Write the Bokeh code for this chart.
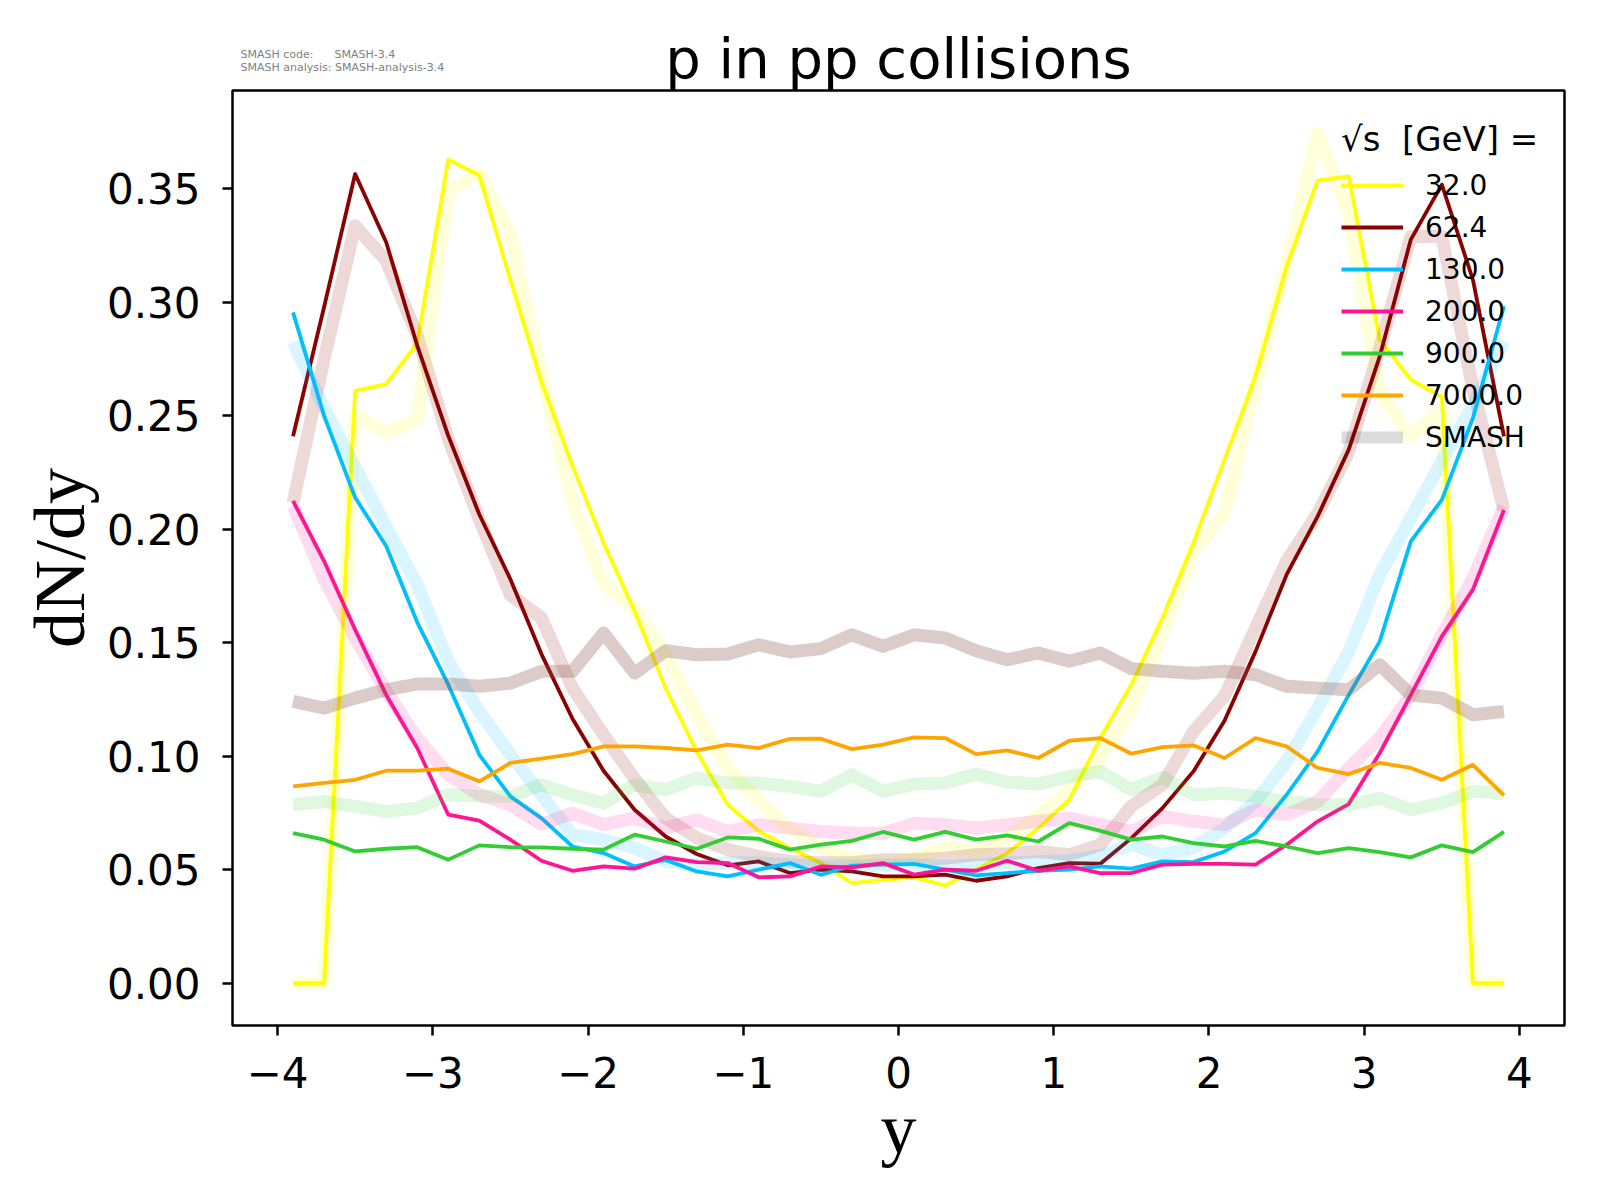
from bokeh.plotting import figure
from bokeh.models import Range1d, FixedTicker, Legend, LegendItem, Title
from bokeh.embed import file_html
from bokeh.resources import INLINE

# ---------------- data ----------------
y_bins = [-3.9, -3.7, -3.5, -3.3, -3.1, -2.9, -2.7, -2.5, -2.3, -2.1,
          -1.9, -1.7, -1.5, -1.3, -1.1, -0.9, -0.7, -0.5, -0.3, -0.1,
          0.1, 0.3, 0.5, 0.7, 0.9, 1.1, 1.3, 1.5, 1.7, 1.9,
          2.1, 2.3, 2.5, 2.7, 2.9, 3.1, 3.3, 3.5, 3.7, 3.9]

energies = ["32.0", "62.4", "130.0", "200.0", "900.0", "7000.0"]
colors = ["#ffff00", "#8b0000", "#00bfff", "#ff1493", "#32cd32", "#ffa500"]

data_32 = [0.0, 0.0, 0.261, 0.264, 0.282, 0.363, 0.356, 0.310, 0.265, 0.228,
           0.194, 0.164, 0.130, 0.102, 0.0786, 0.0669, 0.0595, 0.0529, 0.0441, 0.0455,
           0.0466, 0.043, 0.050, 0.0573, 0.0683, 0.0808, 0.108, 0.1315, 0.1609, 0.194,
           0.2307, 0.2674, 0.3159, 0.3538, 0.3556, 0.2836, 0.2659, 0.2583, 0.0, 0.0]
data_62 = [0.241, 0.298, 0.3566, 0.3265, 0.281, 0.2412, 0.2065, 0.178, 0.145, 0.1165,
           0.0936, 0.0764, 0.0646, 0.0569, 0.0519, 0.0536, 0.0485, 0.050, 0.0492, 0.047,
           0.047, 0.0478, 0.0451, 0.047, 0.0507, 0.0529, 0.0526, 0.0639, 0.0771, 0.0933,
           0.1156, 0.1462, 0.180, 0.2057, 0.2351, 0.2762, 0.3277, 0.3519, 0.310, 0.241]
data_130 = [0.2956, 0.250, 0.214, 0.1926, 0.159, 0.1315, 0.1006, 0.0823, 0.0727, 0.0602,
            0.0573, 0.0514, 0.0543, 0.0492, 0.047, 0.050, 0.0529, 0.0477, 0.0518, 0.0522,
            0.0525, 0.050, 0.0475, 0.0485, 0.0495, 0.050, 0.0514, 0.0504, 0.0536, 0.0533,
            0.058, 0.0661, 0.083, 0.1021, 0.127, 0.1506, 0.1947, 0.213, 0.249, 0.2983]
data_200 = [0.2125, 0.186, 0.1557, 0.127, 0.1036, 0.0742, 0.0716, 0.0632, 0.0539, 0.0495,
            0.0514, 0.0504, 0.0554, 0.0533, 0.0529, 0.0466, 0.047, 0.0514, 0.051, 0.0529,
            0.0478, 0.050, 0.0495, 0.0539, 0.0495, 0.0514, 0.0485, 0.0485, 0.0522, 0.0525,
            0.0525, 0.0522, 0.061, 0.0713, 0.0789, 0.1014, 0.127, 0.1528, 0.1734, 0.2085]
data_900 = [0.0661, 0.0632, 0.0580, 0.0592, 0.0599, 0.0544, 0.0607, 0.0599, 0.0598, 0.0592,
            0.0588, 0.0654, 0.0624, 0.0592, 0.0642, 0.0636, 0.0588, 0.0610, 0.0627, 0.0666,
            0.0632, 0.0666, 0.0632, 0.0651, 0.0624, 0.0705, 0.0671, 0.0632, 0.0646, 0.0617,
            0.0602, 0.0627, 0.0602, 0.0573, 0.0595, 0.0577, 0.0554, 0.0607, 0.0577, 0.0666]
data_7000 = [0.0867, 0.0882, 0.0896, 0.0936, 0.0936, 0.0945, 0.0889, 0.0970, 0.0989, 0.1009,
             0.1043, 0.1043, 0.1036, 0.1026, 0.1051, 0.1036, 0.1076, 0.1077, 0.1031, 0.1051,
             0.1083, 0.1080, 0.1009, 0.1026, 0.0992, 0.1068, 0.1080, 0.1011, 0.1040, 0.1048,
             0.0992, 0.1080, 0.1043, 0.0948, 0.0921, 0.0970, 0.0948, 0.0896, 0.0962, 0.0827]

smash_32 = [0.0, 0.0, 0.2507, 0.2426, 0.2485, 0.3493, 0.3566, 0.330, 0.268, 0.212,
            0.176, 0.165, 0.145, 0.118, 0.095, 0.080, 0.068, 0.060, 0.055, 0.053,
            0.055, 0.060, 0.058, 0.064, 0.074, 0.085, 0.099, 0.121, 0.154, 0.190,
            0.207, 0.264, 0.317, 0.3747, 0.339, 0.260, 0.241, 0.253, 0.0, 0.0]
smash_62 = [0.2118, 0.275, 0.3338, 0.3184, 0.2853, 0.2397, 0.2044, 0.171, 0.161, 0.130,
            0.1095, 0.090, 0.0727, 0.064, 0.0588, 0.0558, 0.0536, 0.053, 0.053, 0.0544,
            0.0544, 0.055, 0.0566, 0.057, 0.058, 0.0566, 0.061, 0.078, 0.0874, 0.111,
            0.1264, 0.1565, 0.186, 0.207, 0.234, 0.280, 0.329, 0.329, 0.262, 0.2086]
smash_130 = [0.2824, 0.2535, 0.2275, 0.201, 0.1756, 0.1418, 0.1197, 0.1006, 0.083, 0.0654,
             0.0632, 0.0595, 0.0536, 0.0522, 0.053, 0.053, 0.052, 0.0515, 0.0515, 0.052,
             0.052, 0.0515, 0.052, 0.053, 0.0535, 0.054, 0.056, 0.061, 0.0566, 0.0595,
             0.0683, 0.080, 0.0977, 0.1212, 0.146, 0.180, 0.205, 0.230, 0.2547, 0.283]
smash_200 = [0.2103, 0.178, 0.152, 0.1286, 0.108, 0.0918, 0.083, 0.0786, 0.070, 0.0749,
             0.0698, 0.0727, 0.0683, 0.072, 0.0668, 0.0698, 0.0683, 0.0668, 0.0661, 0.066,
             0.0705, 0.0698, 0.0683, 0.0698, 0.0713, 0.0727, 0.0698, 0.0668, 0.0735, 0.0713,
             0.0698, 0.0764, 0.0742, 0.080, 0.0948, 0.108, 0.127, 0.1535, 0.1785, 0.210]
smash_900 = [0.0786, 0.080, 0.0779, 0.0757, 0.0771, 0.083, 0.0823, 0.0823, 0.0874, 0.083,
             0.0793, 0.0874, 0.0852, 0.0904, 0.0882, 0.0882, 0.0867, 0.0845, 0.0918, 0.0845,
             0.0877, 0.0882, 0.0921, 0.0886, 0.0877, 0.0911, 0.0933, 0.0852, 0.0907, 0.083,
             0.0837, 0.0823, 0.080, 0.0786, 0.0786, 0.0815, 0.0764, 0.0793, 0.0845, 0.0837]
smash_7000 = [0.1242, 0.1212, 0.1256, 0.1293, 0.1318, 0.1318, 0.1308, 0.1322, 0.1374, 0.1374,
              0.1543, 0.1366, 0.1465, 0.1447, 0.145, 0.1491, 0.1459, 0.1474, 0.1535, 0.1484,
              0.1535, 0.1521, 0.1465, 0.1425, 0.1455, 0.1418, 0.1455, 0.1386, 0.1374, 0.1366,
              0.1374, 0.1359, 0.1308, 0.130, 0.1293, 0.1403, 0.127, 0.1256, 0.1183, 0.1197]

data_series = [data_32, data_62, data_130, data_200, data_900, data_7000]
smash_series = [smash_32, smash_62, smash_130, smash_200, smash_900, smash_7000]
smash_colors = ["#ffff00", "#8b0000", "#00bfff", "#ff1493", "#32cd32", "#8c564b"]
smash_alphas = [0.15, 0.15, 0.15, 0.15, 0.15, 0.3]

x_ticks = [-4, -3, -2, -1, 0, 1, 2, 3, 4]
x_tick_labels = ["\u22124", "\u22123", "\u22122", "\u22121", "0", "1", "2", "3", "4"]
y_ticks = [0.0, 0.05, 0.1, 0.15, 0.2, 0.25, 0.3, 0.35]
y_tick_labels = ["0.00", "0.05", "0.10", "0.15", "0.20", "0.25", "0.30", "0.35"]

title_text = "p in pp collisions"
info_text = ("SMASH code:" + "\u00a0" * 6 + "SMASH-3.4\n"
             "SMASH analysis: SMASH-analysis-3.4")

# ---------------- figure ----------------
p = figure(width=1600, height=1200, output_backend="svg", toolbar_location=None,
           title=None,
           x_range=Range1d(-4.29, 4.29), y_range=Range1d(-0.0187, 0.3934),
           min_border_left=232, min_border_right=36, min_border_top=90, min_border_bottom=175)

main_title = Title(text=title_text, align="center", text_font="DejaVu Sans",
                   text_font_size="56px", text_font_style="normal", text_color="black",
                   standoff=0)
p.add_layout(main_title, "above")
info_title = Title(text=info_text, align="left", text_font="DejaVu Sans",
                   text_font_size="11px", text_font_style="normal", text_color="#808080",
                   offset=8, standoff=-101)
p.add_layout(info_title, "above")

p.grid.visible = False
p.outline_line_color = "black"
p.outline_line_width = 2.5
p.background_fill_color = "white"
p.border_fill_color = "white"

for ax in (p.xaxis, p.yaxis):
    ax.axis_line_color = None
    ax.major_tick_line_color = "black"
    ax.major_tick_line_width = 2.5
    ax.major_tick_out = 10
    ax.major_tick_in = 0
    ax.minor_tick_line_color = None
    ax.major_label_text_font = "DejaVu Sans"
    ax.major_label_text_font_size = "42px"
    ax.major_label_text_color = "black"
    ax.axis_label_text_font = "Liberation Serif"
    ax.axis_label_text_font_size = "72px"
    ax.axis_label_text_font_style = "normal"
    ax.axis_label_text_color = "black"

p.xaxis.ticker = FixedTicker(ticks=x_ticks)
p.xaxis.major_label_overrides = dict(zip(x_ticks, x_tick_labels))
p.yaxis.ticker = FixedTicker(ticks=y_ticks)
p.yaxis.major_label_overrides = dict(zip(y_ticks, y_tick_labels))
p.xaxis.axis_label = "y"
p.yaxis.axis_label = "dN/dy"
p.xaxis.major_label_standoff = 21
p.yaxis.major_label_standoff = 22
p.xaxis.axis_label_standoff = -2
p.yaxis.axis_label_standoff = 4

data_renderers = []
for d, s, c, sc, sa in zip(data_series, smash_series, colors, smash_colors, smash_alphas):
    r = p.line(y_bins, d, line_color=c, line_width=3.8, line_join="round")
    data_renderers.append(r)
    p.line(y_bins, s, line_color=sc, line_alpha=sa, line_width=13, line_join="round")

# legend proxy for the SMASH curves (no visible mark in the plot area)
smash_proxy = p.line([float("nan")], [float("nan")], line_color="black",
                     line_alpha=0.14, line_width=12)

items = [LegendItem(label=e, renderers=[r]) for e, r in zip(energies, data_renderers)]
items.append(LegendItem(label="SMASH", renderers=[smash_proxy]))

legend = Legend(items=items, location=(1109, 568), title="\u221as  [GeV] =",
                title_text_font="DejaVu Sans", title_text_font_size="34px",
                title_text_font_style="normal", title_text_color="black", title_standoff=6,
                label_text_font="DejaVu Sans", label_text_font_size="28px",
                label_text_color="black",
                glyph_width=62, glyph_height=40, label_height=40, spacing=2,
                label_standoff=22, padding=0, margin=0,
                border_line_color=None, background_fill_alpha=0.0)
p.add_layout(legend)

open("out.html", "w").write(file_html(p, INLINE))
